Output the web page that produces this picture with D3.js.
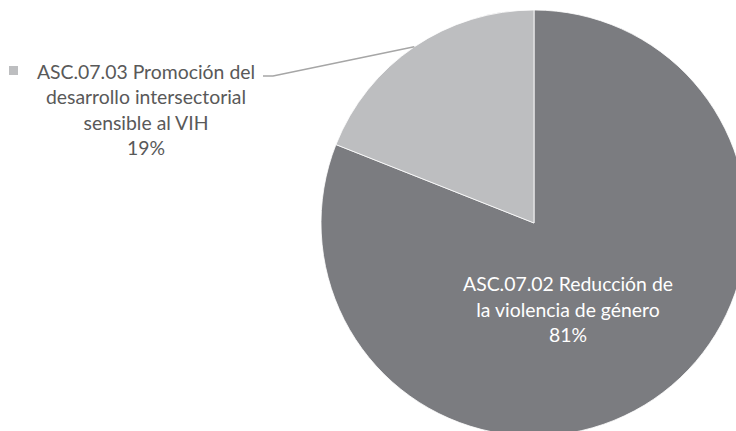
<!DOCTYPE html>
<html>
<head>
<meta charset="utf-8">
<script src="https://cdn.jsdelivr.net/npm/d3@7"></script>
<style>
  html, body { margin: 0; padding: 0; background: #ffffff; }
  svg { display: block; }
  text { font-family: Lato, "Open Sans", sans-serif; }
</style>
</head>
<body>
<svg id="chart" width="736" height="431"></svg>
<script>
const categories = [
  "ASC.07.02 Reducción de la violencia de género",
  "ASC.07.03 Promoción del desarrollo intersectorial sensible al VIH"
];
const values = [81, 19];
const percentLabels = ["81%", "19%"];
const labelLines = [
  ["ASC.07.02 Reducción de", "la violencia de género", "81%"],
  ["ASC.07.03 Promoción del", "desarrollo intersectorial", "sensible al VIH", "19%"]
];
const colors = ["#7b7c80", "#bdbec0"];

const svg = d3.select("#chart");
const cx = 534, cy = 223, r = 213;
const fontSize = 19.4, lineH = 25.5;

const pie = d3.pie().sort(null).value(d => d)(values);
const arc = d3.arc().innerRadius(0).outerRadius(r);

const g = svg.append("g").attr("transform", `translate(${cx},${cy})`);
g.selectAll("path.slice")
  .data(pie)
  .join("path")
  .attr("class", "slice")
  .attr("d", arc)
  .attr("fill", (d, i) => colors[i])
  .attr("stroke", "#ffffff")
  .attr("stroke-width", 0.8);

// Inside label for the large slice
const inLines = labelLines[0];
const inX = cx + 34, inY = cy + 87;
const tIn = svg.append("text")
  .attr("text-anchor", "middle")
  .attr("font-size", fontSize)
  .attr("fill", "#ffffff");
inLines.forEach((ln, k) => {
  tIn.append("tspan")
    .attr("x", inX)
    .attr("y", inY + (k - (inLines.length - 1) / 2) * lineH)
    .attr("dy", "0.35em")
    .text(ln);
});

// Outside label for the small slice with leader line
const small = pie[1];
const mid = (small.startAngle + small.endAngle) / 2;
const ex = cx + r * Math.sin(mid), ey = cy - r * Math.cos(mid);
const outX = 146, outY0 = 72;
svg.append("polyline")
  .attr("points", [[ex, ey], [273, 76], [263, 76]].map(p => p.join(",")).join(" "))
  .attr("fill", "none")
  .attr("stroke", "#a6a6a6")
  .attr("stroke-width", 1.5);

const outLines = labelLines[1];
const tOut = svg.append("text")
  .attr("text-anchor", "middle")
  .attr("font-size", fontSize)
  .attr("fill", "#595959");
outLines.forEach((ln, k) => {
  tOut.append("tspan")
    .attr("x", outX)
    .attr("y", outY0 + k * lineH)
    .attr("dy", "0.35em")
    .text(ln);
});

// Legend key square
svg.append("rect")
  .attr("x", 9).attr("y", 66)
  .attr("width", 9).attr("height", 9)
  .attr("fill", colors[1]);
</script>
</body>
</html>
